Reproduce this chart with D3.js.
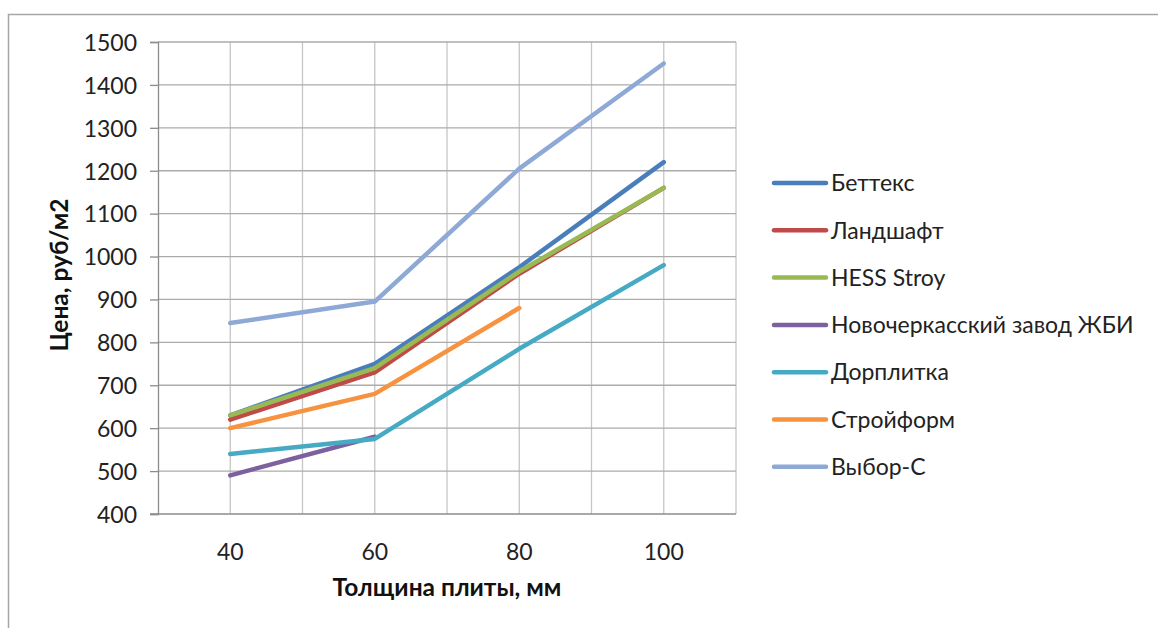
<!DOCTYPE html>
<html><head><meta charset="utf-8">
<script src="https://cdn.jsdelivr.net/npm/d3@7"></script>
<style>html,body{margin:0;padding:0;background:#fff;overflow:hidden}</style>
</head><body>
<svg id="c" width="1158" height="628"></svg>
<script>
const categories = ["40", "60", "80", "100"];
const seriesNames = ["Беттекс", "Ландшафт", "HESS Stroy", "Новочеркасский завод ЖБИ", "Дорплитка", "Стройформ", "Выбор-С"];
const bettex   = [630, 750, 975, 1220];
const landshaft = [620, 730, 960, 1160];
const hess     = [630, 740, 965, 1160];
const novo     = [490, 580, null, null];
const dorplitka = [540, 575, 785, 980];
const stroyform = [600, 680, 880, null];
const vybor    = [845, 895, 1205, 1450];
const yTicks = [400, 500, 600, 700, 800, 900, 1000, 1100, 1200, 1300, 1400, 1500];
const colors = ["#4A7EBB", "#BE4B48", "#98B954", "#7D60A0", "#46AAC5", "#F69240", "#8EA9D6"];
const values = [bettex, landshaft, hess, novo, dorplitka, stroyform, vybor];

const svg = d3.select("#c");
const font = "Lato, 'Open Sans', sans-serif";
const L = 158, R = 736, T = 42, B = 514;

// outer frame
svg.append("path").attr("d", "M8.5,628 V14.5 H1158").attr("fill", "none")
  .attr("stroke", "#a6a6a6").attr("stroke-width", 1.5);

const x = d3.scaleBand().domain(categories).range([L, R]);
const y = d3.scaleLinear().domain([400, 1500]).range([B, T]);

const g = svg.append("g");
// vertical gridlines: band boundaries and centres
const vx = [];
categories.forEach(c => { vx.push(x(c)); vx.push(x(c) + x.bandwidth() / 2); });
vx.push(R);
g.selectAll(".vg").data(vx.slice(1)).enter().append("line")
  .attr("x1", d => d).attr("x2", d => d).attr("y1", T).attr("y2", B)
  .attr("stroke", "#c6c6c6").attr("stroke-width", 1.3);
// horizontal gridlines
g.selectAll(".hg").data(yTicks.slice(1)).enter().append("line")
  .attr("x1", L).attr("x2", R).attr("y1", d => y(d)).attr("y2", d => y(d))
  .attr("stroke", "#ababab").attr("stroke-width", 1.3);

// y axis
const yAxis = d3.axisLeft(y).tickValues(yTicks).tickSize(8).tickPadding(13).tickFormat(d3.format("d"));
const ya = svg.append("g").attr("transform", `translate(${L},0)`).call(yAxis);
ya.select(".domain").attr("stroke", "#8c8c8c").attr("stroke-width", 1.3);
ya.selectAll(".tick line").attr("stroke", "#8c8c8c").attr("stroke-width", 1.3);
ya.selectAll(".tick text").attr("font-family", font).attr("font-size", 23).attr("fill", "#222").attr("dy", "0.36em");

// x axis
const xAxis = d3.axisBottom(x).tickSize(0).tickPadding(30);
const xa = svg.append("g").attr("transform", `translate(0,${B})`).call(xAxis);
xa.select(".domain").attr("stroke", "#8c8c8c").attr("stroke-width", 1.3).attr("d", `M${L - 8},0H${R}`);
xa.selectAll(".tick text").attr("font-family", font).attr("font-size", 23).attr("fill", "#222");

// axis titles
svg.append("text").attr("x", (L + R) / 2).attr("y", 596).attr("text-anchor", "middle")
  .attr("font-family", font).attr("font-weight", "bold").attr("font-size", 24.5).attr("fill", "#111")
  .text("Толщина плиты, мм");
svg.append("text").attr("transform", `translate(68,${(T + B) / 2 - 3}) rotate(-90)`).attr("text-anchor", "middle")
  .attr("font-family", font).attr("font-weight", "bold").attr("font-size", 24.5).attr("fill", "#111")
  .text("Цена, руб/м2");

// lines
const line = d3.line().defined(d => d.v != null)
  .x(d => x(d.c) + x.bandwidth() / 2).y(d => y(d.v));
values.forEach((vals, i) => {
  const pts = categories.map((c, j) => ({ c, v: vals[j] }));
  svg.append("path").datum(pts).attr("d", line).attr("fill", "none")
    .attr("stroke", colors[i]).attr("stroke-width", 4.5).attr("stroke-linejoin", "round").attr("stroke-linecap", "round");
});

// legend
const lg = svg.append("g");
seriesNames.forEach((n, i) => {
  const yy = 183 + i * 47.3;
  lg.append("line").attr("x1", 774).attr("x2", 826).attr("y1", yy).attr("y2", yy)
    .attr("stroke", colors[i]).attr("stroke-width", 4.5).attr("stroke-linecap", "round");
  lg.append("text").attr("x", 831).attr("y", yy).attr("dy", "0.36em")
    .attr("font-family", font).attr("font-size", 23).attr("fill", "#222").text(n);
});
</script>
</body></html>
